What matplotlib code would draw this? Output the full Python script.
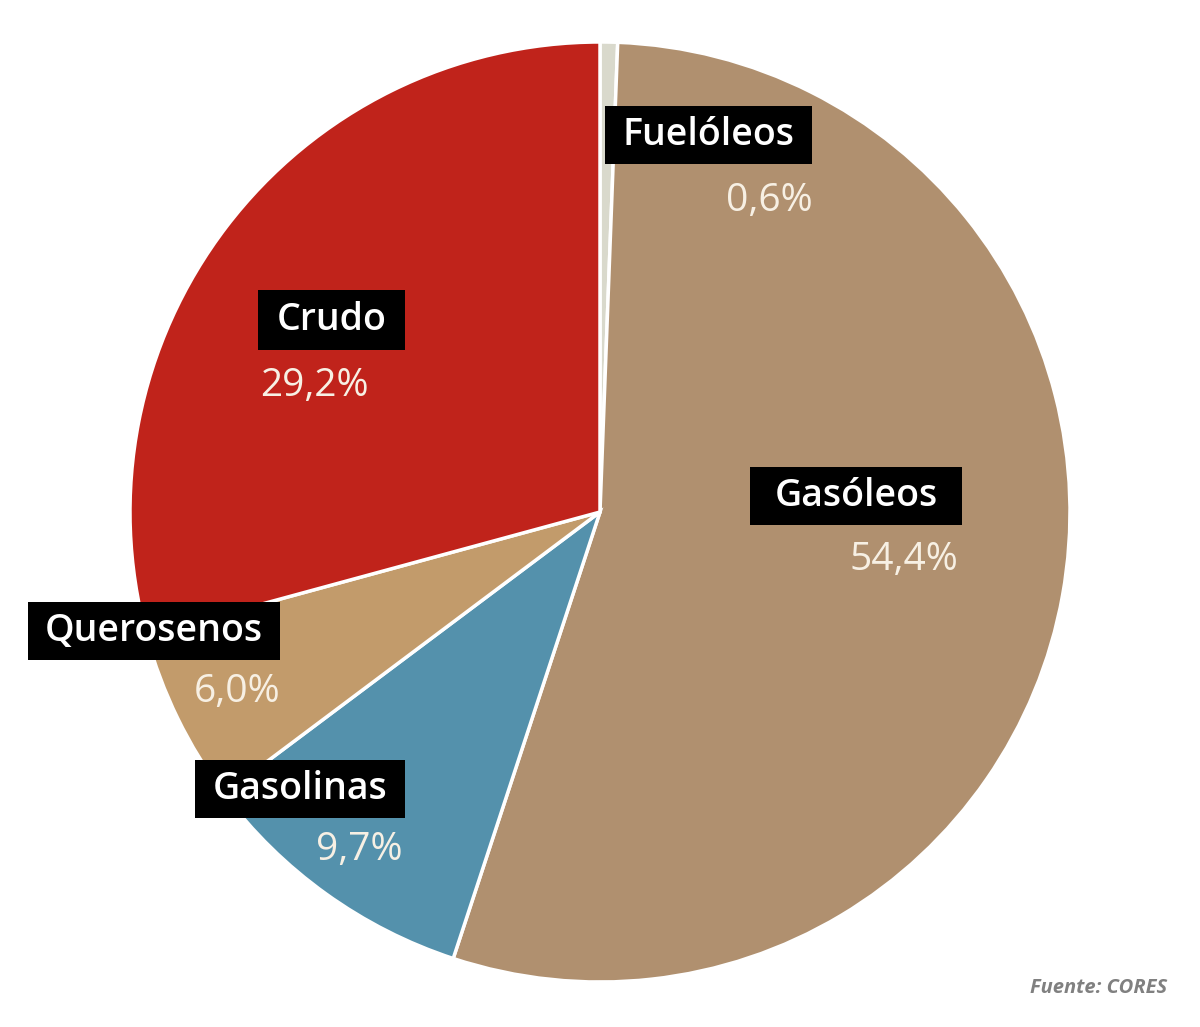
import matplotlib
matplotlib.use("Agg")
import matplotlib.pyplot as plt
from matplotlib.patches import Rectangle

categories = ["Fuelóleos", "Gasóleos", "Gasolinas", "Querosenos", "Crudo"]
values = [0.6, 54.4, 9.7, 6.0, 29.2]
pct_labels = ["0,6%", "54,4%", "9,7%", "6,0%", "29,2%"]
colors = ["#D9D9CC", "#B0906F", "#5491AC", "#C29B6B", "#C0231B"]
source = "Fuente: CORES"

W, H = 1200, 1027
fig = plt.figure(figsize=(W / 100, H / 100), dpi=100)
fig.patch.set_facecolor("white")

cx, cy, r = 600, 512, 470
ax = fig.add_axes([(cx - r) / W, (H - cy - r) / H, 2 * r / W, 2 * r / H])
ax.pie(values, colors=colors, startangle=90, counterclock=False, radius=1,
       wedgeprops=dict(edgecolor="white", linewidth=2.5))
ax.set_xlim(-1, 1)
ax.set_ylim(-1, 1)
ax.set_aspect("equal")
ax.axis("off")

font = ["Open Sans", "DejaVu Sans"]
# label box (left, top, right, bottom) in pixels, pct anchor x, pct y, alignment
label_pos = {
    "Fuelóleos": ((605, 106, 812, 164), 813, 201, "right"),
    "Gasóleos": ((750, 467, 962, 525), 958, 560, "right"),
    "Gasolinas": ((195, 760, 405, 818), 402, 850, "right"),
    "Querosenos": ((28, 602, 280, 660), 280, 692, "right"),
    "Crudo": ((258, 290, 405, 350), 260, 386, "left"),
}

for cat, pct in zip(categories, pct_labels):
    (l, t, rr, b), px, py, ha = label_pos[cat]
    fig.patches.append(Rectangle((l / W, 1 - b / H), (rr - l) / W, (b - t) / H,
                                 transform=fig.transFigure, facecolor="black",
                                 edgecolor="none", zorder=3))
    fig.text((l + rr) / 2 / W, 1 - (t + b) / 2 / H, cat, ha="center", va="center",
             fontsize=27, color="white", family=font, fontweight="semibold", zorder=4)
    fig.text(px / W, 1 - py / H, pct, ha=ha, va="center", fontsize=28,
             color="#F7F0E4", family=font, zorder=4)

fig.text(1167 / W, 1 - 988 / H, source, ha="right", va="center", fontsize=14.5,
         color="#808080", family=font, fontweight="bold", style="italic")

fig.savefig("out.png", dpi=100, facecolor="white")
